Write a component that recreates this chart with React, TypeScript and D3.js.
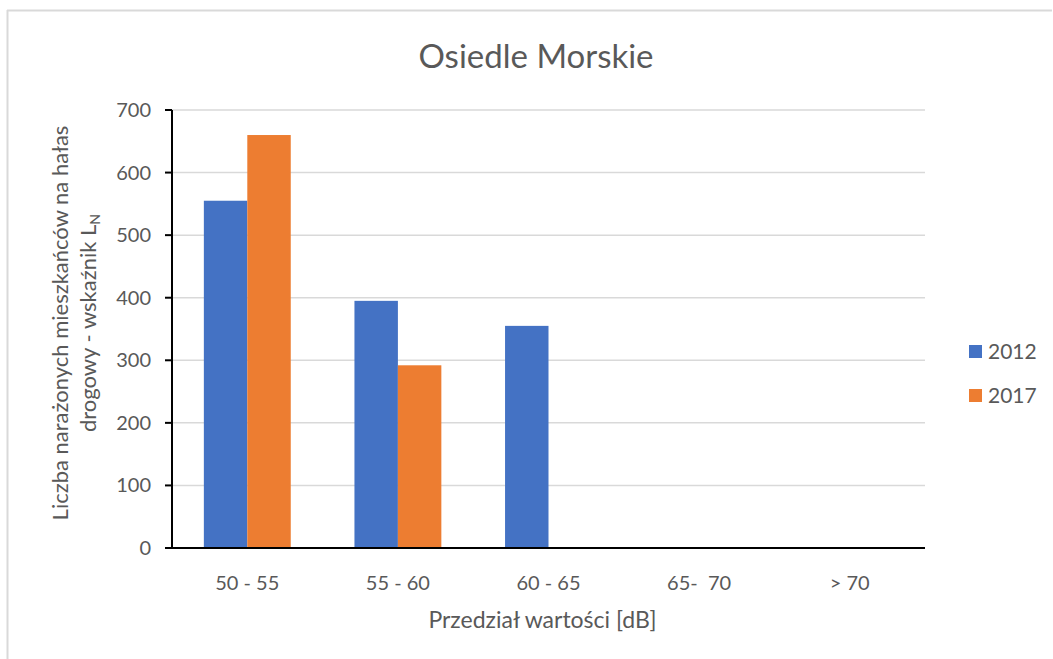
import React from 'react';
import * as d3 from 'd3';

const categories = ['50 - 55', '55 - 60', '60 - 65', '65-  70', '> 70'];
const seriesNames = ['2012', '2017'];
const values2012 = [555, 395, 355, 0, 0];
const values2017 = [660, 292, 0, 0, 0];
const yTicks = [0, 100, 200, 300, 400, 500, 600, 700];

const colors = ['#4472C4', '#ED7D31'];
const textColor = '#595959';
const font = 'Lato, "Open Sans", sans-serif';

const width = 1053;
const height = 659;
const margin = { top: 110, right: 128, bottom: 111, left: 172 };

const App: React.FC = () => {
  const innerWidth = width - margin.left - margin.right;
  const innerHeight = height - margin.top - margin.bottom;

  const pad = 0.423;
  const x0 = d3.scaleBand<string>()
    .domain(categories)
    .range([0, innerWidth])
    .paddingInner(pad)
    .paddingOuter(pad / 2);

  const x1 = d3.scaleBand<string>()
    .domain(seriesNames)
    .range([0, x0.bandwidth()]);

  const y = d3.scaleLinear()
    .domain([0, 700])
    .range([innerHeight, 0]);

  const series = [values2012, values2017];

  return (
    <svg width={width} height={height} style={{ position: 'absolute', left: 0, top: 0 }} fontFamily={font}>
      <rect x={0} y={0} width={width} height={height} fill="#fff" />
      {/* chart frame */}
      <line x1={7.5} y1={10} x2={7.5} y2={height} stroke="#d9d9d9" strokeWidth={2} />
      <line x1={7} y1={10.5} x2={1052} y2={10.5} stroke="#d9d9d9" strokeWidth={2} />

      <text x={536} y={68} textAnchor="middle" fontSize={33} fill={textColor}>Osiedle Morskie</text>

      <g transform={`translate(${margin.left},${margin.top})`}>
        {/* grid */}
        {yTicks.filter(t => t > 0).map(t => (
          <line key={t} x1={0} x2={innerWidth} y1={y(t)} y2={y(t)} stroke="#d9d9d9" strokeWidth={1.5} />
        ))}

        {/* bars */}
        {categories.map((c, i) => (
          <g key={c} transform={`translate(${x0(c)},0)`}>
            {series.map((vals, s) => (
              <rect
                key={s}
                x={x1(seriesNames[s])}
                y={y(vals[i])}
                width={x1.bandwidth()}
                height={innerHeight - y(vals[i])}
                fill={colors[s]}
              />
            ))}
          </g>
        ))}

        {/* y axis */}
        <line x1={0} x2={0} y1={0} y2={innerHeight} stroke="#000" strokeWidth={2} />
        {yTicks.map(t => (
          <g key={t} transform={`translate(0,${y(t)})`}>
            <line x1={-7} x2={0} stroke="#000" strokeWidth={2} />
            <text x={-21} dy="0.35em" textAnchor="end" fontSize={20} fill={textColor}>{t}</text>
          </g>
        ))}

        {/* x axis */}
        <line x1={-7} x2={innerWidth} y1={innerHeight} y2={innerHeight} stroke="#000" strokeWidth={2} />
        {categories.map(c => (
          <text key={c} x={(x0(c) ?? 0) + x0.bandwidth() / 2} y={innerHeight + 42} textAnchor="middle" fontSize={20} fill={textColor} style={{ whiteSpace: 'pre' }}>
            {c}
          </text>
        ))}
        <text x={innerWidth / 2 - 6} y={innerHeight + 80} textAnchor="middle" fontSize={23} fill={textColor}>
          Przedział wartości [dB]
        </text>

        {/* y axis title */}
        <g transform={`translate(${-margin.left + 68},${innerHeight / 2 - 6}) rotate(-90)`}>
          <text x={0} y={0} textAnchor="middle" fontSize={22} fill={textColor}>
            Liczba narażonych mieszkańców na hałas
          </text>
          <text x={0} y={28} textAnchor="middle" fontSize={22} fill={textColor}>
            drogowy - wskaźnik L<tspan fontSize={14} dy={4}>N</tspan>
          </text>
        </g>
      </g>

      {/* legend */}
      {seriesNames.map((n, i) => (
        <g key={n} transform={`translate(969,${345 + i * 44})`}>
          <rect x={0} y={0} width={13} height={13} fill={colors[i]} />
          <text x={19} y={7} dy="0.35em" fontSize={21} fill={textColor}>{n}</text>
        </g>
      ))}
    </svg>
  );
};

export default App;
